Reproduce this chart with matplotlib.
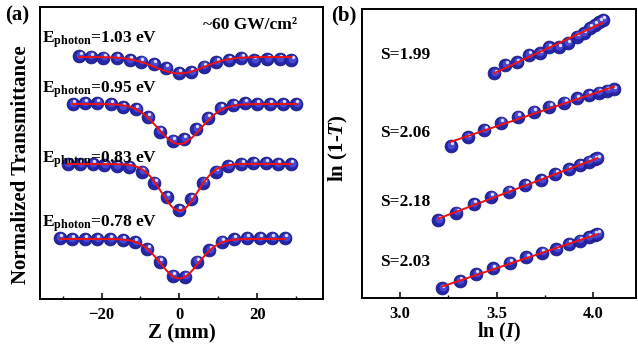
import numpy as np
import matplotlib
matplotlib.use("Agg")
import matplotlib.pyplot as plt
from matplotlib.transforms import offset_copy

plt.rcParams['font.family'] = 'Liberation Serif'
plt.rcParams['font.weight'] = 'bold'
plt.rcParams['mathtext.fontset'] = 'custom'
plt.rcParams['mathtext.rm'] = 'Liberation Serif:bold'
plt.rcParams['mathtext.bf'] = 'Liberation Serif:bold'
plt.rcParams['mathtext.it'] = 'Liberation Serif:italic:bold'

# ---- panel (a): Z-scan curves ----
z_103 = [-25.7, -22.8, -19.5, -16.1, -12.8, -9.8, -6.6, -3.4, -0.2, 3.0, 6.3, 9.5, 12.7, 15.9, 19.2, 22.6, 25.8, 28.8]
t_103 = [1.006, 1.002, 0.997, 0.994, 0.985, 0.977, 0.964, 0.944, 0.919, 0.924, 0.952, 0.974, 0.985, 0.994, 0.985, 0.990, 0.990, 0.985]
z_095 = [-27.4, -24.3, -21.1, -17.6, -14.6, -11.1, -8.0, -5.1, -1.7, 1.2, 4.3, 7.3, 10.6, 13.9, 16.9, 20.0, 23.3, 26.6, 30.0]
t_095 = [1.000, 1.004, 1.004, 1.000, 0.984, 0.974, 0.934, 0.862, 0.817, 0.824, 0.874, 0.929, 0.979, 0.995, 1.004, 1.000, 1.000, 1.000, 1.000]
z_083 = [-28.7, -25.5, -22.3, -19.3, -16.1, -12.9, -9.6, -6.4, -3.2, -0.1, 3.0, 6.2, 9.4, 12.6, 15.9, 19.0, 22.2, 25.3, 28.7]
t_083 = [1.000, 1.000, 1.000, 0.995, 0.990, 0.984, 0.962, 0.907, 0.834, 0.770, 0.824, 0.907, 0.962, 0.990, 1.000, 1.004, 1.004, 1.000, 1.000]
z_078 = [-30.7, -27.6, -24.2, -21.1, -17.8, -14.5, -11.4, -8.2, -5.0, -1.7, 1.5, 4.5, 7.7, 10.9, 14.1, 17.3, 20.6, 23.8, 27.2]
t_078 = [1.004, 1.000, 1.000, 1.000, 1.000, 0.995, 0.984, 0.950, 0.887, 0.817, 0.812, 0.887, 0.945, 0.987, 1.000, 1.004, 1.004, 1.004, 1.004]

z_sets = [z_103, z_095, z_083, z_078]
t_sets = [t_103, t_095, t_083, t_078]
offsets = [0.91, 0.675, 0.375, 0.0]
energies = ["1.03", "0.95", "0.83", "0.78"]
# fit parameters (dip depth, width) for the red curves
fit_depth = [0.082, 0.200, 0.233, 0.197]
fit_width = [9.0, 7.8, 6.5, 7.0]

# ---- panel (b): ln(1-T) vs ln(I) ----
lnI_199 = [3.488, 3.545, 3.606, 3.666, 3.723, 3.769, 3.821, 3.868, 3.916, 3.950, 3.980, 4.006, 4.031, 4.047]
lnT_199 = [2.267, 2.350, 2.377, 2.450, 2.467, 2.527, 2.527, 2.567, 2.633, 2.667, 2.720, 2.750, 2.780, 2.800]
lnI_206 = [3.264, 3.350, 3.437, 3.523, 3.609, 3.692, 3.773, 3.850, 3.916, 3.976, 4.028, 4.071, 4.106]
lnT_206 = [1.540, 1.627, 1.700, 1.773, 1.833, 1.883, 1.933, 1.973, 2.017, 2.050, 2.073, 2.093, 2.107]
lnI_218 = [3.200, 3.292, 3.381, 3.471, 3.562, 3.649, 3.730, 3.804, 3.873, 3.930, 3.976, 4.006, 4.020]
lnT_218 = [0.800, 0.873, 0.960, 1.033, 1.083, 1.150, 1.200, 1.260, 1.307, 1.350, 1.383, 1.407, 1.417]
lnI_203 = [3.218, 3.309, 3.395, 3.482, 3.568, 3.654, 3.735, 3.809, 3.873, 3.930, 3.976, 4.006, 4.020]
lnT_203 = [0.117, 0.190, 0.260, 0.317, 0.373, 0.427, 0.473, 0.507, 0.560, 0.593, 0.627, 0.650, 0.660]

x_sets = [lnI_199, lnI_206, lnI_218, lnI_203]
y_sets = [lnT_199, lnT_206, lnT_218, lnT_203]
slopes = ["1.99", "2.06", "2.18", "2.03"]


fig = plt.figure(figsize=(6.38, 3.44), dpi=100)
ax1 = fig.add_axes([40 / 638, 45 / 344, 283 / 638, 292 / 344])
ax2 = fig.add_axes([362 / 638, 46 / 344, 274 / 638, 289 / 344])


def balls(ax, x, y):
    # shaded sphere look: dark body + lighter core + highlight
    ax.plot(x, y, 'o', ms=9.2, mfc='#2626a8', mec='#1a1a80', mew=0.6, zorder=3)
    tr = offset_copy(ax.transData, fig=fig, x=0.4, y=0.9, units='points')
    ax.plot(x, y, 'o', ms=5.6, mfc='#4848d2', mec='none', transform=tr, zorder=3)
    tr2 = offset_copy(ax.transData, fig=fig, x=0.9, y=2.0, units='points')
    ax.plot(x, y, 'o', ms=2.4, mfc='#dcdcff', mec='none', transform=tr2, zorder=3)


for z, t, off, d, w in zip(z_sets, t_sets, offsets, fit_depth, fit_width):
    z = np.array(z)
    t = np.array(t)
    balls(ax1, z, t + off)
    zz = np.linspace(z[0], z[-1], 300)
    ax1.plot(zz, 1 - d * np.exp(-(zz / w) ** 2) + off, color='#ee1111', lw=1.4, zorder=4)

label_y = [1.995, 1.745, 1.395, 1.075]
for e, ly in zip(energies, label_y):
    ax1.text(-35.3, ly, r'E$_{\mathrm{photon}}$=' + e + ' eV', fontsize=12.5,
             fontweight='bold', ha='left', va='center')

ax1.text(0.908, 0.938, '~60 GW/cm²', transform=ax1.transAxes, fontsize=12.5,
         fontweight='bold', ha='right', va='center')

ax1.set_xlim(-35.8, 36.9)
ax1.set_ylim(0.70, 2.16)
ax1.set_xticks([-20, 0, 20])
ax1.set_xticks([-30, -10, 10, 30], minor=True)
ax1.set_yticks([])
ax1.tick_params(axis='x', direction='in', length=4, width=1.1, labelsize=12, pad=6)
ax1.tick_params(axis='x', which='minor', direction='in', length=2.5, width=1.0)
ax1.set_xlabel('Z (mm)', fontsize=15, fontweight='bold', labelpad=0)
ax1.set_ylabel('Normalized Transmittance', fontsize=15, fontweight='bold')
ax1.yaxis.set_label_coords(-0.032, 0.46)

for x, y in zip(x_sets, y_sets):
    x = np.array(x)
    y = np.array(y)
    balls(ax2, x, y)
    k, b = np.polyfit(x, y, 1)
    xx = np.array([x[0], x[-1]])
    ax2.plot(xx, k * xx + b, color='#ee1111', lw=1.4, zorder=4)

s_y = [2.45, 1.67, 0.98, 0.38]
for s, sy in zip(slopes, s_y):
    ax2.text(2.9, sy, 'S=' + s, fontsize=12.5, fontweight='bold', ha='left', va='center')

ax2.set_xlim(2.805, 4.22)
ax2.set_ylim(0.02, 2.91)
ax2.set_xticks([3.0, 3.5, 4.0])
ax2.set_xticks([3.25, 3.75], minor=True)
ax2.set_yticks([])
ax2.tick_params(axis='x', direction='in', length=4, width=1.1, labelsize=12, pad=6)
ax2.tick_params(axis='x', which='minor', direction='in', length=2.5, width=1.0)
ax2.set_xlabel(r'ln ($\mathit{I}$)', fontsize=14.5, fontweight='bold', labelpad=-1)
ax2.set_ylabel(r'ln (1-$\mathit{T}$)', fontsize=15, fontweight='bold')
ax2.yaxis.set_label_coords(-0.044, 0.52)

for ax in (ax1, ax2):
    for sp in ax.spines.values():
        sp.set_linewidth(1.4)

fig.text(5 / 638, 1 - 15 / 344, '(a)', fontsize=15, fontweight='bold', ha='left', va='center')
fig.text(331 / 638, 1 - 15 / 344, '(b)', fontsize=15, fontweight='bold', ha='left', va='center')

fig.savefig('out.png', dpi=100)
